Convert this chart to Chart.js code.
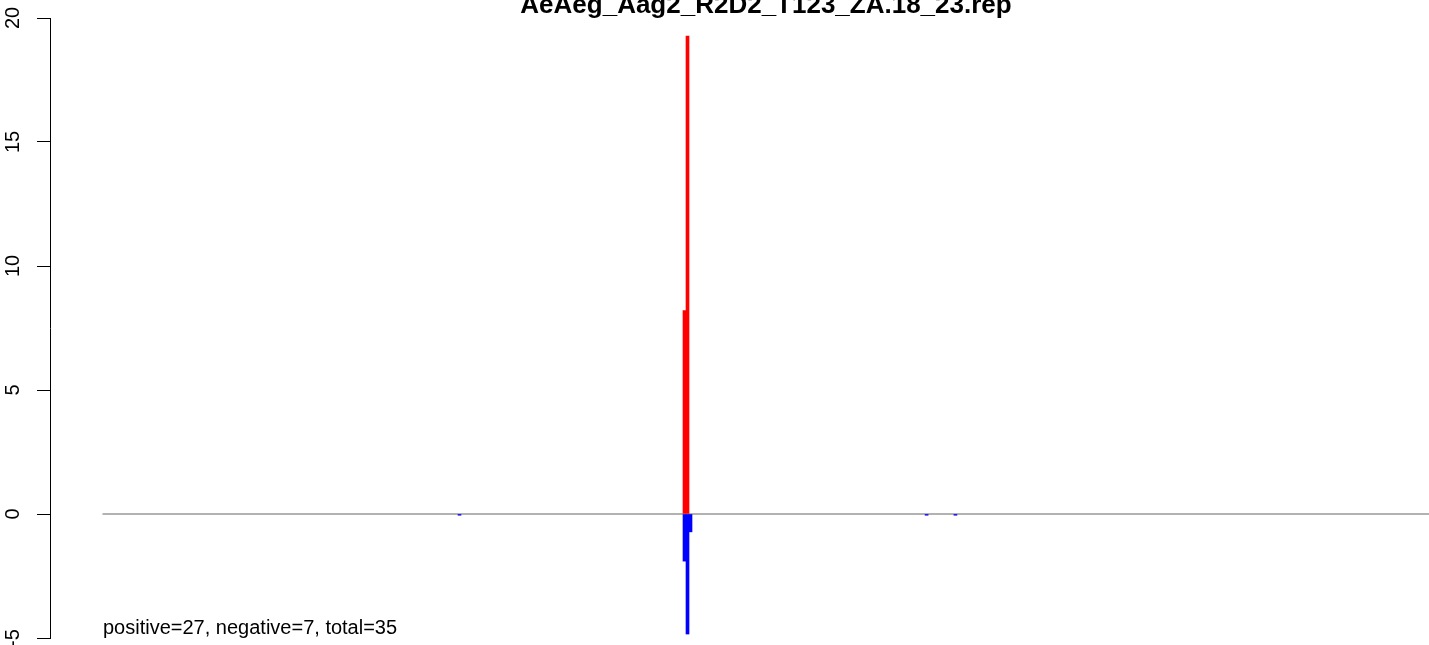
<!DOCTYPE html>
<html lang="en">

<head>
    <meta charset="UTF-8">
    <title>AeAeg_Aag2_R2D2_T123_ZA.18_23.rep</title>
    <script src="https://cdn.jsdelivr.net/npm/chart.js"></script>
    <style>
        html, body { margin: 0; padding: 0; background: #fff; overflow: hidden; }
    </style>
</head>

<body>
    <canvas id="chart" width="1490" height="645"></canvas>

    <script>
        // positions along the locus and read counts
        const titleText = 'AeAeg_Aag2_R2D2_T123_ZA.18_23.rep';
        const summaryText = 'positive=27, negative=7, total=35';

        const posPositions = [194.5, 195.5];
        const posValues = [8.2, 19.27];

        const negPositions = [119.5, 194.5, 195.5, 196.5, 275.2, 284.8];
        const negValues = [-0.05, -1.9, -4.84, -0.72, -0.05, -0.05];

        const baselineX = [0.5, 460.33];
        const yTicks = [-5, 0, 5, 10, 15, 20];

        const font = '"Liberation Sans", Arial, Helvetica, sans-serif';

        // draws the R-like title, rotated y labels and the summary line
        const rDecor = {
            id: 'rDecor',
            afterDraw(chart) {
                const ctx = chart.ctx;
                const area = chart.chartArea;
                const y = chart.scales.y;
                ctx.save();
                ctx.fillStyle = '#000';

                ctx.font = 'bold 26px ' + font;
                ctx.textAlign = 'center';
                ctx.textBaseline = 'alphabetic';
                ctx.fillText(titleText, (area.left + area.right) / 2, 13);

                ctx.font = '20px ' + font;
                yTicks.forEach(v => {
                    const py = y.getPixelForValue(v);
                    ctx.save();
                    ctx.translate(19, py);
                    ctx.rotate(-Math.PI / 2);
                    ctx.textAlign = 'center';
                    ctx.textBaseline = 'alphabetic';
                    ctx.fillText(String(v), 0, 0);
                    ctx.restore();
                });

                ctx.font = '20px ' + font;
                ctx.textAlign = 'left';
                ctx.fillText(summaryText, 103, 634);
                ctx.restore();
            }
        };

        new Chart(document.getElementById('chart'), {
            type: 'bar',
            data: {
                datasets: [
                    {
                        type: 'line',
                        data: baselineX.map(x => ({ x: x, y: 0 })),
                        borderColor: '#999999',
                        borderWidth: 1.5,
                        pointRadius: 0,
                        order: 3
                    },
                    {
                        data: posPositions.map((x, i) => ({ x: x, y: posValues[i] })),
                        backgroundColor: '#ff0000',
                        barThickness: 3,
                        grouped: false,
                        order: 1
                    },
                    {
                        data: negPositions.map((x, i) => ({ x: x, y: negValues[i] })),
                        backgroundColor: '#0000ff',
                        barThickness: 3,
                        grouped: false,
                        order: 2
                    }
                ]
            },
            options: {
                responsive: false,
                animation: false,
                layout: { padding: { top: 18, bottom: 7, right: 8, left: 0 } },
                plugins: {
                    legend: { display: false },
                    tooltip: { enabled: false },
                    title: { display: false }
                },
                scales: {
                    x: {
                        type: 'linear',
                        min: -17,
                        max: 460.33,
                        offset: false,
                        display: false
                    },
                    y: {
                        min: -5,
                        max: 20,
                        afterFit: s => { s.width = 50; },
                        afterBuildTicks: s => { s.ticks = yTicks.map(v => ({ value: v })); },
                        border: { display: true, color: '#000', width: 1 },
                        grid: {
                            drawOnChartArea: false,
                            drawTicks: true,
                            tickLength: 13,
                            color: '#000',
                            lineWidth: 1
                        },
                        ticks: { display: false }
                    }
                }
            },
            plugins: [rDecor]
        });
    </script>
</body>

</html>
